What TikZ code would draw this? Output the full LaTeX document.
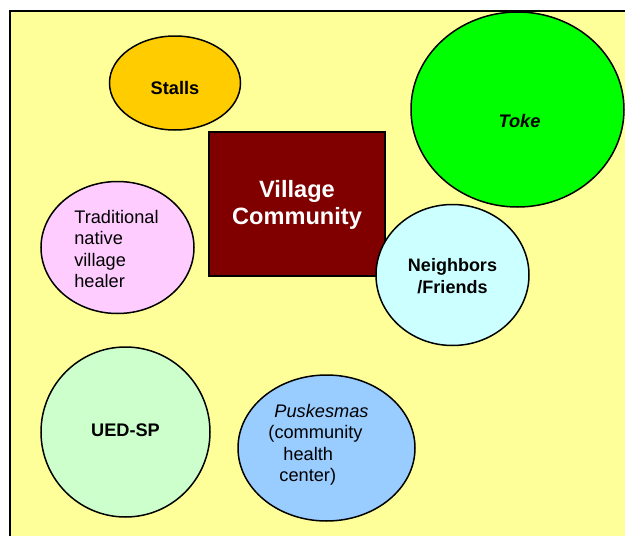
\documentclass[tikz,border=0pt]{standalone}
\usepackage{fontspec}
\setmainfont{Liberation Sans}
\usetikzlibrary{shapes.geometric}
\definecolor{paleyellow}{HTML}{FFFF99}
\definecolor{stallorange}{HTML}{FFCC00}
\definecolor{tokegreen}{HTML}{00FF00}
\definecolor{villagered}{HTML}{800000}
\definecolor{healerpink}{HTML}{FFCCFF}
\definecolor{friendcyan}{HTML}{CCFFFF}
\definecolor{uedgreen}{HTML}{CCFFCC}
\definecolor{puskblue}{HTML}{99CCFF}

\begin{document}
\begin{tikzpicture}[x=1pt, y=-1pt,
  bubble/.style={draw, ellipse, line width=1.5pt, inner sep=0pt},
  txt/.style={font=\fontsize{18.2}{21.5}\selectfont, text=black}]
\useasboundingbox (0,0) rectangle (625,536);
\clip (0,0) rectangle (625,536);
% background frame
\draw[line width=2pt, fill=paleyellow] (10,11) rectangle (640,550);
\node (stalls)[bubble, fill=stallorange, minimum width=131, minimum height=94,
  label={[txt, yshift=-5pt]center:\bfseries Stalls}] at (175,83) {};
\node (village)[draw, line width=1.5pt, fill=villagered, minimum width=176, minimum height=144,
  label={[text=white, font=\bfseries\fontsize{23.6}{27}\selectfont, align=center, yshift=-0.5pt]center:Village\\Community}] at (297,204) {};
\node (friends)[bubble, fill=friendcyan, minimum width=153, minimum height=141,
  label={[txt, align=center, yshift=-1.5pt, font=\bfseries\fontsize{18}{22}\selectfont]center:Neighbors\\/Friends}] at (452.5,275) {};
\node (toke)[bubble, fill=tokegreen, minimum width=213, minimum height=195,
  label={[txt, xshift=2pt, yshift=-11.5pt]center:\bfseries\itshape Toke}] at (517.5,109.5) {};
\node (healer)[bubble, fill=healerpink, minimum width=153, minimum height=132,
  label={[txt, align=left, xshift=-1pt, yshift=-1.5pt]center:Traditional\\native\\village\\healer}] at (117.5,247.5) {};
\node (ued)[bubble, fill=uedgreen, minimum width=169, minimum height=170,
  label={[txt, yshift=2pt]center:\bfseries UED-SP}] at (125.5,432) {};
\node (puskesmas)[bubble, fill=puskblue, minimum width=177, minimum height=146,
  label={[txt, align=left, xshift=-8pt, yshift=3pt]center:\hspace*{6pt}\textit{Puskesmas}\\(community\\\hspace*{15pt}health\\\hspace*{11pt}center)}] at (326.5,448) {};
\end{tikzpicture}
\end{document}
